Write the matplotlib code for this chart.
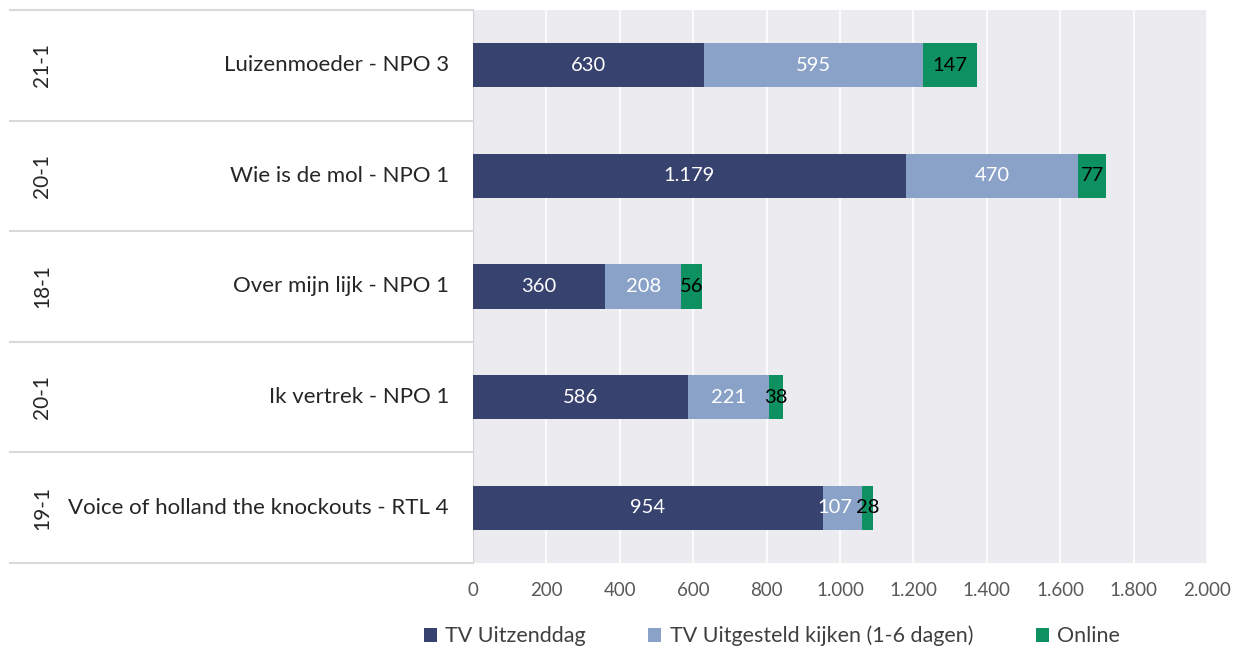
import numpy as np
import matplotlib.pyplot as plt
import matplotlib.transforms as mtransforms

plt.rcParams['font.family'] = ['Lato', 'DejaVu Sans']

# data, top to bottom
programmas = ['Luizenmoeder - NPO 3', 'Wie is de mol - NPO 1', 'Over mijn lijk - NPO 1',
              'Ik vertrek - NPO 1', 'Voice of holland the knockouts - RTL 4']
datums = ['21-1', '20-1', '18-1', '20-1', '19-1']
uitzenddag = [630, 1179, 360, 586, 954]
uitgesteld = [595, 470, 208, 221, 107]
online = [147, 77, 56, 38, 28]
series = ['TV Uitzenddag', 'TV Uitgesteld kijken (1-6 dagen)', 'Online']
kleuren = ['#37426f', '#8aa2c8', '#0e9160']
tekstkleur = ['white', 'white', 'black']
xticks = [0, 200, 400, 600, 800, 1000, 1200, 1400, 1600, 1800, 2000]

def nl(v):
    return f'{v:,}'.replace(',', '.')

fig = plt.figure(figsize=(12.38, 6.49), dpi=100)
bottom, top = 1 - 563/649, 1 - 10/649
ax = fig.add_axes([473/1238, bottom, (1207-473)/1238, top - bottom])
axl = fig.add_axes([10/1238, bottom, (473-10)/1238, top - bottom], sharey=ax)

n = len(programmas)
y = np.arange(n)[::-1]
ax.set_facecolor('#ebebf0')
left = np.zeros(n)
handles = []
labels = []
for vals, kl, tk, naam in zip([uitzenddag, uitgesteld, online], kleuren, tekstkleur, series):
    vals = np.array(vals)
    b = ax.barh(y, vals, left=left, height=0.4, color=kl, label=naam, zorder=3)
    handles.append(b)
    rij = []
    for yi, l, v in zip(y, left, vals):
        rij.append(ax.text(l + v/2, yi, nl(v), ha='center', va='center', color=tk,
                           fontsize=14.5, zorder=4))
    labels.append(rij)
    left = left + vals

ax.set_xlim(0, 2000)
ax.set_ylim(-0.5, n - 0.5)
ax.set_xticks(xticks)
ax.set_xticklabels([nl(t) for t in xticks], color='#595959', fontsize=13.5)
ax.tick_params(axis='x', length=0, pad=14)
ax.tick_params(axis='y', length=0, labelleft=False)
ax.grid(axis='x', color='white', linewidth=1.2, zorder=0)
for s in ax.spines.values():
    s.set_visible(False)
ax.axvline(0, color='#d0d0d0', linewidth=1.5, zorder=2)

# left label panel
axl.set_xlim(0, 463)
axl.axis('off')
for b in np.arange(n + 1) - 0.5:
    axl.axhline(b, color='#d9d9d9', linewidth=1.5, clip_on=False)
for yi, d, p in zip(y, datums, programmas):
    axl.text(32, yi, d, rotation=90, ha='center', va='center', fontsize=15, color='#262626')
    axl.text(439, yi, p, ha='right', va='center', fontsize=16, color='#262626')

fig.legend(handles, series, loc='center', bbox_to_anchor=(772/1238, 1 - 636/649), ncol=3,
           frameon=False, fontsize=15.5, handlelength=0.6, handleheight=0.6,
           handletextpad=0.4, columnspacing=2.9, labelcolor='#404040')

# schuif middelste label naar links als het over het online-label valt (zoals Excel)
fig.canvas.draw()
r = fig.canvas.get_renderer()
for mid, last in zip(labels[1], labels[2]):
    overlap = mid.get_window_extent(r).x1 - last.get_window_extent(r).x0
    if overlap > -3:
        dx = -(overlap + 3) / fig.dpi
        mid.set_transform(mid.get_transform() +
                          mtransforms.ScaledTranslation(dx, 0, fig.dpi_scale_trans))

fig.savefig('out.png', dpi=100)
